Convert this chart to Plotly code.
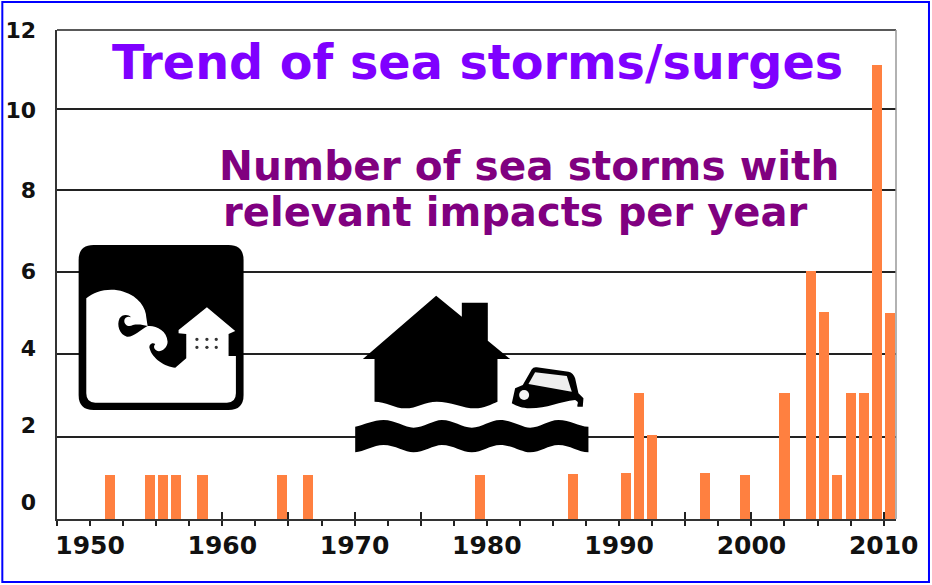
import plotly.graph_objects as go

# ---- data ----
years = [1951, 1954, 1955, 1956, 1958, 1964, 1966, 1979, 1986, 1990, 1991, 1992,
         1996, 1999, 2002, 2004, 2005, 2006, 2007, 2008, 2009, 2010]
storms = [1.08, 1.08, 1.08, 1.08, 1.08, 1.08, 1.08, 1.08, 1.1, 1.12, 3.1, 2.05,
          1.12, 1.08, 3.08, 6.08, 5.08, 1.08, 3.08, 3.08, 11.14, 5.05]
x_tick_years = [1947.5 + 2.5 * i for i in range(26)]
x_long_ticks = [1960, 1965, 1970, 1975, 1995, 2000, 2010]
x_labels = {1950: "1950", 1960: "1960", 1970: "1970", 1980: "1980",
            1990: "1990", 2000: "2000", 2010: "2010"}
y_grid = [0, 2.02, 4.05, 6.06, 8.08, 10.05]
y_label_text = ["0", "2", "4", "6", "8", "10", "12"]
y_label_at = [0.42, 2.31, 4.2, 6.08, 8.07, 10.04, 12.0]

W, H = 932, 585
L, R, T, B = 56.7, 896, 30, 519


def X(px):
    return (px - L) / (R - L)


def Y(py):
    return (B - py) / (B - T)


def path(cmds, ox=0.0, oy=0.0, k=1.0):
    """Decorative icon outline: pixel-space commands to paper-space path string."""
    out = []
    for cmd, *pts in cmds:
        s = cmd
        for a, b in pts:
            s += f"{X(ox + a * k):.5f},{Y(oy + b * k):.5f} "
        out.append(s)
    return " ".join(out) + " Z"


def deco(cmds, color, ox, oy, k=1 / 3):
    return dict(type="path", xref="paper", yref="paper", layer="above",
                path=path(cmds, ox, oy, k), fillcolor=color, line=dict(width=0))


shapes = []

# tsunami icon
o1 = (60, 230)
shapes.append(deco([
    ("M", (55, 90)), ("Q", (55, 45), (100, 45)), ("L", (505, 45)), ("Q", (550, 45), (550, 90)),
    ("L", (550, 495)), ("Q", (550, 540), (505, 540)), ("L", (100, 540)), ("Q", (55, 540), (55, 495)),
], "#000000", *o1))
shapes.append(deco([
    ("M", (78, 205)), ("C", (105, 182), (150, 172), (190, 185)), ("C", (235, 198), (258, 235), (258, 262)),
    ("L", (262, 288)), ("C", (285, 285), (320, 300), (322, 335)), ("C", (322, 355), (300, 368), (290, 362)),
    ("C", (282, 358), (278, 350), (285, 342)), ("C", (275, 335), (265, 345), (268, 355)),
    ("C", (275, 385), (315, 412), (345, 413)), ("L", (378, 385)), ("L", (378, 312)), ("L", (355, 310)),
    ("L", (355, 300)), ("L", (440, 232)), ("L", (525, 303)), ("L", (505, 312)), ("L", (505, 378)),
    ("L", (527, 378)), ("L", (527, 490)), ("Q", (527, 518), (500, 518)), ("L", (105, 518)),
    ("Q", (78, 518), (78, 490)),
], "#ffffff", *o1))
shapes.append(deco([
    ("M", (262, 288)), ("C", (240, 300), (220, 322), (200, 320)), ("C", (178, 315), (168, 285), (178, 265)),
    ("C", (185, 252), (205, 252), (212, 262)), ("C", (205, 258), (192, 262), (192, 272)),
    ("C", (192, 285), (205, 292), (218, 285)), ("C", (232, 282), (248, 284), (262, 288)),
], "#000000", *o1))
for wx in (410, 440, 468):
    for wy in (328, 352):
        shapes.append(dict(type="circle", xref="paper", yref="paper", layer="above",
                           x0=X(60 + (wx - 5) / 3), x1=X(60 + (wx + 5) / 3),
                           y0=Y(230 + (wy + 5) / 3), y1=Y(230 + (wy - 5) / 3),
                           fillcolor="#333333", line=dict(width=0)))

# flooded house icon
o2 = (340, 280)
shapes.append(deco([
    ("M", (288, 47)), ("L", (365, 110)), ("L", (365, 68)), ("L", (443, 68)), ("L", (443, 182)),
    ("L", (510, 237)), ("L", (472, 237)), ("L", (472, 365)), ("C", (455, 372), (430, 385), (405, 385)),
    ("C", (370, 385), (330, 365), (290, 365)), ("C", (255, 365), (230, 385), (195, 385)),
    ("C", (165, 385), (135, 365), (103, 365)), ("L", (103, 237)), ("L", (68, 237)),
], "#000000", *o2))
shapes.append(deco([
    ("M", (45, 440)), ("C", (70, 435), (100, 420), (130, 420)), ("C", (165, 420), (195, 443), (220, 443)),
    ("C", (250, 443), (280, 420), (305, 420)), ("C", (340, 420), (365, 443), (395, 443)),
    ("C", (425, 443), (450, 420), (480, 420)), ("C", (515, 420), (545, 443), (570, 443)),
    ("C", (600, 443), (625, 420), (655, 420)), ("C", (690, 420), (715, 440), (745, 440)),
    ("L", (745, 517)), ("C", (715, 517), (690, 495), (655, 495)), ("C", (625, 495), (600, 517), (570, 517)),
    ("C", (545, 517), (515, 495), (480, 495)), ("C", (450, 495), (425, 517), (395, 517)),
    ("C", (365, 517), (340, 495), (305, 495)), ("C", (280, 495), (250, 517), (220, 517)),
    ("C", (195, 517), (165, 495), (130, 495)), ("C", (100, 495), (70, 515), (45, 517)),
], "#000000", *o2))
shapes.append(deco([
    ("M", (515, 370)), ("L", (525, 325)), ("L", (548, 315)), ("L", (575, 268)), ("Q", (580, 260), (590, 262)),
    ("L", (685, 275)), ("Q", (700, 278), (705, 295)), ("L", (715, 340)), ("L", (730, 355)), ("L", (728, 380)),
    ("L", (712, 380)), ("C", (710, 370), (720, 368), (705, 360)), ("C", (660, 365), (620, 385), (570, 385)),
    ("C", (545, 385), (530, 378), (515, 370)),
], "#000000", *o2))
shapes.append(deco([
    ("M", (565, 312)), ("L", (585, 277)), ("L", (680, 288)), ("L", (695, 335)),
], "#eeeeee", *o2))
shapes.append(dict(type="circle", xref="paper", yref="paper", layer="above",
                   x0=X(340 + 537 / 3), x1=X(340 + 567 / 3), y0=Y(280 + 360 / 3), y1=Y(280 + 330 / 3),
                   fillcolor="#f4f4f4", line=dict(width=0)))

# top rule, right edge of plot and outer blue frame
shapes.append(dict(type="line", xref="paper", yref="paper", x0=0, x1=1, y0=1, y1=1, layer="below",
                   line=dict(color="#222222", width=1.5)))
shapes.append(dict(type="line", xref="paper", yref="paper", x0=1, x1=1, y0=0, y1=1,
                   line=dict(color="#999999", width=1.5)))
shapes.append(dict(type="rect", xref="paper", yref="paper", x0=X(2), x1=X(929), y0=Y(582), y1=Y(2),
                   line=dict(color="#0000ff", width=2)))

fig = go.Figure()
fig.add_trace(go.Bar(x=years, y=storms, width=0.76, offset=0.12,
                     marker=dict(color="#ff8040", line=dict(width=0)), showlegend=False))
# overlay axis trace carrying the y-axis labels
fig.add_trace(go.Scatter(x=[], y=[], xaxis="x2", yaxis="y2", showlegend=False))

tick_font = dict(family="DejaVu Sans", size=22, color="#111111", weight="bold")

fig.update_layout(
    width=W, height=H, autosize=False,
    margin=dict(l=L, r=W - R, t=T, b=H - B, pad=0),
    paper_bgcolor="#ffffff", plot_bgcolor="#ffffff",
    bargap=0,
    xaxis=dict(automargin=False, range=[1947.5, 2010.93], tickmode="array", tickvals=x_tick_years,
               ticktext=[x_labels.get(v, "") for v in x_tick_years],
               ticks="outside", ticklen=5, tickwidth=1.5, tickcolor="#222222",
               showgrid=False, zeroline=False, showline=True, linecolor="#333333", linewidth=1.5,
               ticklabelstandoff=-2,
               tickfont=dict(family="DejaVu Sans", size=25, color="#111111", weight="bold")),
    xaxis2=dict(automargin=False, range=[1947.5, 2010.93], overlaying="x", anchor="y", tickmode="array",
                tickvals=x_long_ticks, showticklabels=False, ticks="inside", ticklen=7,
                tickwidth=1.5, tickcolor="#222222", showgrid=False, zeroline=False),
    yaxis=dict(automargin=False, range=[0, 12], tickmode="array", tickvals=y_grid, showticklabels=False,
               ticks="", showgrid=True, gridcolor="#222222", gridwidth=1.5, zeroline=False,
               showline=True, linecolor="#333333", linewidth=1.5),
    yaxis2=dict(automargin=False, range=[0, 12], overlaying="y", anchor="x", side="left", tickmode="array",
                tickvals=y_label_at, ticktext=y_label_text, ticks="", showgrid=False,
                zeroline=False, showline=False, tickfont=tick_font, ticklabelstandoff=20),
    shapes=shapes,
    annotations=[
        dict(text="Trend of sea storms/surges", xref="paper", yref="paper", x=X(110), y=Y(62),
             xanchor="left", yanchor="middle", showarrow=False,
             font=dict(family="DejaVu Sans", size=47.7, color="#7f00ff", weight="bold")),
        dict(text="Number of sea storms with", xref="paper", yref="paper", x=X(217), y=Y(166),
             xanchor="left", yanchor="middle", showarrow=False,
             font=dict(family="DejaVu Sans", size=40.6, color="#800080", weight="bold")),
        dict(text="relevant impacts per year", xref="paper", yref="paper", x=X(221), y=Y(212),
             xanchor="left", yanchor="middle", showarrow=False,
             font=dict(family="DejaVu Sans", size=40.1, color="#800080", weight="bold")),
    ],
)

fig.write_html("out.html", config={"displayModeBar": False},
               post_script="document.body.style.margin='0';document.body.style.padding='0';document.documentElement.style.overflow='hidden';")
